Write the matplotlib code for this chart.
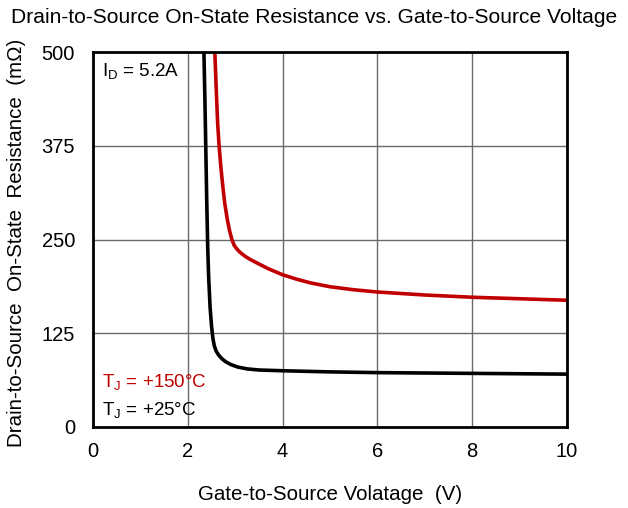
import matplotlib
matplotlib.use("Agg")
import matplotlib.pyplot as plt

plt.rcParams['font.family'] = ['Liberation Sans', 'DejaVu Sans']
plt.rcParams['mathtext.fontset'] = 'custom'
plt.rcParams['mathtext.rm'] = 'Liberation Sans'
plt.rcParams['mathtext.it'] = 'Liberation Sans'

# Data (Vgs in V, Rds(on) in mOhm)
vgs_25 = [2.34, 2.36, 2.38, 2.40, 2.42, 2.44, 2.47, 2.50, 2.53, 2.56, 2.60, 2.65, 2.72, 2.80, 2.90, 3.05, 3.25, 3.50, 4.0, 5.0, 6.0, 7.0, 8.0, 9.0, 10.0]
r_25 = [500, 440, 370, 300, 240, 200, 160, 135, 118, 108, 101, 96, 91, 87, 83.5, 80, 77.5, 76, 75, 73.5, 72.5, 72, 71.5, 71, 70.5]

vgs_150 = [2.57, 2.60, 2.63, 2.66, 2.70, 2.74, 2.78, 2.83, 2.88, 2.93, 2.98, 3.04, 3.10, 3.20, 3.30, 3.45, 3.7, 4.0, 4.3, 4.6, 5.0, 5.5, 6.0, 7.0, 8.0, 9.0, 10.0]
r_150 = [500, 450, 405, 375, 345, 320, 298, 278, 262, 250, 242, 237, 233, 228, 224, 219, 211, 203, 197, 192, 187, 183, 180, 176, 173, 171, 169]

xticks = [0, 2, 4, 6, 8, 10]
yticks = [0, 125, 250, 375, 500]

fig = plt.figure(figsize=(6.28, 5.08), dpi=100)
ax = fig.add_axes([93/628, 81/508, 474/628, 375/508])

ax.plot(vgs_150, r_150, color='#C00000', lw=2.6, solid_capstyle='butt', solid_joinstyle='round')
ax.plot(vgs_25, r_25, color='black', lw=2.6, solid_capstyle='butt', solid_joinstyle='round')

ax.set_xlim(0, 10)
ax.set_ylim(0, 500)
ax.set_xticks(xticks)
ax.set_yticks(yticks)
ax.tick_params(axis='both', labelsize=14.5, length=0)
ax.tick_params(axis='x', pad=11)
ax.tick_params(axis='y', pad=13)
ax.grid(True, color='#6a6a6a', lw=1)
ax.set_axisbelow(True)
for s in ax.spines.values():
    s.set_linewidth(2)
    s.set_color('black')

ax.set_xlabel('Gate-to-Source Volatage  (V)', fontsize=14.8, labelpad=17)
ax.set_ylabel('Drain-to-Source  On-State  Resistance  (m\u03a9)', fontsize=14.8)
ax.yaxis.set_label_coords(-0.142, 0.49)
fig.text(0.5, 0.985, 'Drain-to-Source On-State Resistance vs. Gate-to-Source Voltage',
         ha='center', va='top', fontsize=15.1)

ax.text(0.018, 0.975, '$\\mathregular{I_D}$ = 5.2A', transform=ax.transAxes,
        ha='left', va='top', fontsize=13.5)
ax.text(0.018, 0.12, '$\\mathregular{T_J}$ = +150°C', transform=ax.transAxes,
        ha='left', va='center', fontsize=13.5, color='#C00000')
ax.text(0.018, 0.045, '$\\mathregular{T_J}$ = +25°C', transform=ax.transAxes,
        ha='left', va='center', fontsize=13.5, color='black')

fig.savefig('out.png', dpi=100)
